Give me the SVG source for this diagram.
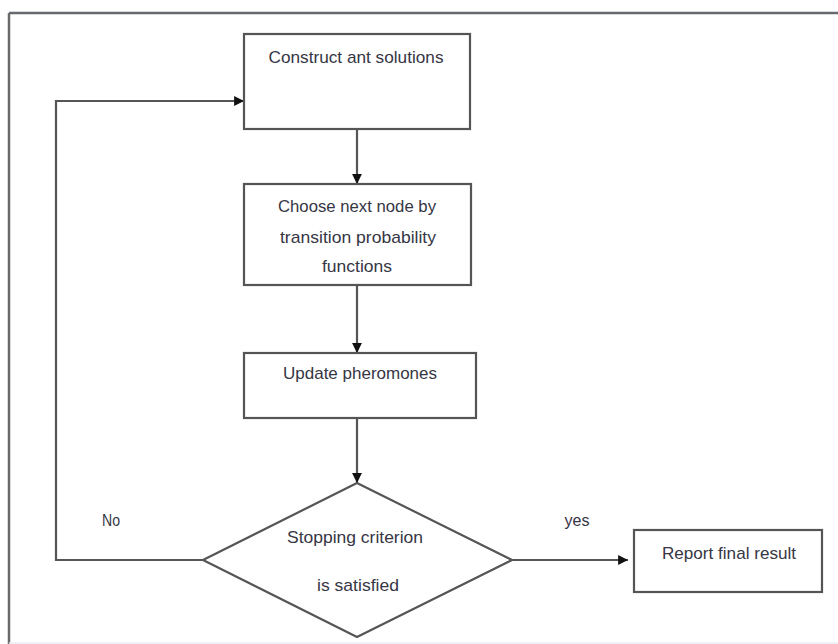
<svg xmlns="http://www.w3.org/2000/svg" width="838" height="644" viewBox="0 0 838 644">
  <style>
    .box { fill: #ffffff; stroke: #555555; stroke-width: 2.2; }
    .edge { fill: none; stroke: #555555; stroke-width: 2.2; }
    .label { font-family: "Liberation Sans", Arial, sans-serif; font-size: 17px; fill: #363644; text-anchor: middle; }
  </style>
  <defs>
    <marker id="arrow" viewBox="0 0 10 10" refX="10" refY="5" markerWidth="4.5" markerHeight="4.5" orient="auto" markerUnits="strokeWidth">
      <path d="M0,0 L10,5 L0,10 z" fill="#111111"/>
    </marker>
  </defs>
  <rect x="0" y="0" width="838" height="644" fill="#ffffff"/>

  <!-- page frame -->
  <g id="frame">
    <line x1="9" y1="13" x2="838" y2="13" stroke="#666a70" stroke-width="2.5"/>
    <line x1="9" y1="13" x2="9" y2="644" stroke="#6a6a6a" stroke-width="2.5"/>
    <line x1="9" y1="643" x2="838" y2="643" stroke="#e8ecf2" stroke-width="1.5"/>
  </g>

  <!-- connectors -->
  <g id="connectors">
    <line class="edge" x1="357" y1="129" x2="357" y2="184" marker-end="url(#arrow)"/>
    <line class="edge" x1="357" y1="285" x2="357" y2="353" marker-end="url(#arrow)"/>
    <line class="edge" x1="357" y1="418" x2="357" y2="483" marker-end="url(#arrow)"/>
    <polyline class="edge" points="205,560 56,560 56,101 244,101" marker-end="url(#arrow)"/>
    <line class="edge" x1="512" y1="560" x2="628" y2="560" marker-end="url(#arrow)"/>
    <text class="label" x="111" y="526" textLength="18" lengthAdjust="spacingAndGlyphs">No</text>
    <text class="label" x="577" y="526" textLength="25" lengthAdjust="spacingAndGlyphs">yes</text>
  </g>

  <g id="construct">
    <rect class="box" x="244" y="34" width="226" height="95"/>
    <text class="label" x="356" y="63" textLength="175" lengthAdjust="spacingAndGlyphs">Construct ant solutions</text>
  </g>

  <g id="choose">
    <rect class="box" x="244" y="184" width="227" height="101"/>
    <text class="label" x="357" y="212" textLength="158" lengthAdjust="spacingAndGlyphs">Choose next node by</text>
    <text class="label" x="358" y="243" textLength="156" lengthAdjust="spacingAndGlyphs">transition probability</text>
    <text class="label" x="357" y="272" textLength="70" lengthAdjust="spacingAndGlyphs">functions</text>
  </g>

  <g id="update">
    <rect class="box" x="244" y="353" width="232" height="65"/>
    <text class="label" x="360" y="379" textLength="154" lengthAdjust="spacingAndGlyphs">Update pheromones</text>
  </g>

  <g id="decision">
    <polygon class="box" points="357,483 512,560 357,637 203,560"/>
    <text class="label" x="355" y="543" textLength="136" lengthAdjust="spacingAndGlyphs">Stopping criterion</text>
    <text class="label" x="358" y="591" textLength="82" lengthAdjust="spacingAndGlyphs">is satisfied</text>
  </g>

  <g id="report">
    <rect class="box" x="634" y="530" width="188" height="62"/>
    <text class="label" x="729" y="559" textLength="134" lengthAdjust="spacingAndGlyphs">Report final result</text>
  </g>
</svg>
